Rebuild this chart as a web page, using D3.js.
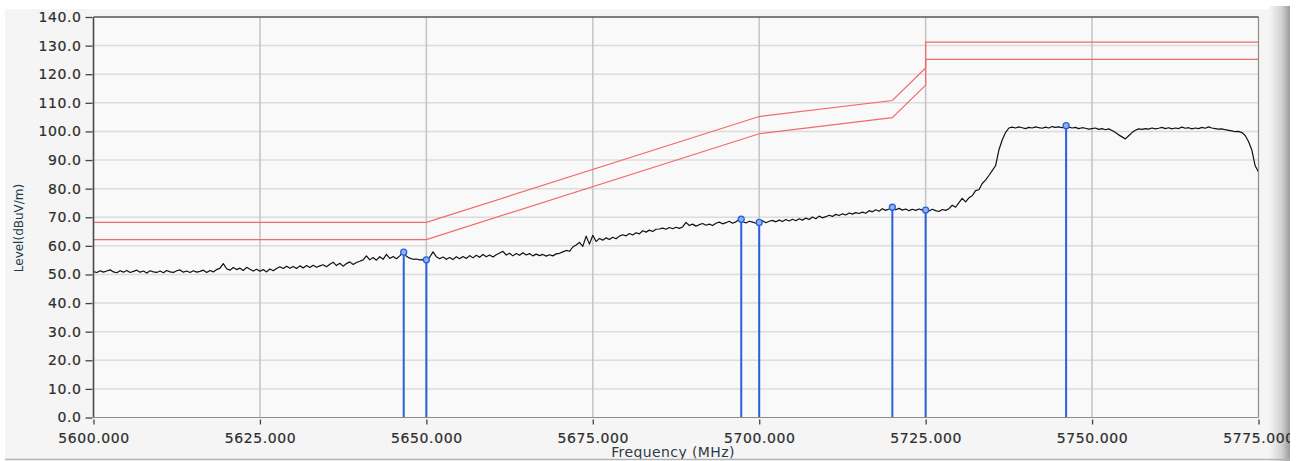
<!DOCTYPE html>
<html>
<head>
<meta charset="utf-8">
<title>Level vs frequency</title>
<script src="https://cdn.jsdelivr.net/npm/d3@7"></script>
<style>
  body { margin: 0; background: #ffffff; }
  svg { display: block; }
  .tick text { font-family: "DejaVu Sans", sans-serif; font-size: 14px; fill: #2e2e2e; stroke: #2e2e2e; stroke-width: 0.2px; letter-spacing: 0.6px; }
  .tick line { stroke: #444444; stroke-width: 1.3; }
  .axis path { display: none; }
</style>
</head>
<body>
<script>
// sweep settings of the trace (one reading every half MHz)
const freqStart = 5600;
const freqStep = 0.5;

var traceLevels = [
  51.0, 50.7, 51.3, 50.8, 51.2, 51.6, 50.9, 50.6, 51.3, 50.8,
  51.4, 50.7, 51.1, 51.5, 50.8, 51.2, 50.5, 51.3, 50.9, 50.7,
  51.2, 50.6, 51.4, 50.9, 50.7, 51.3, 51.6, 50.8, 51.2, 50.7,
  51.3, 50.8, 51.1, 51.5, 50.7, 51.4, 50.9, 51.7, 52.2, 53.8,
  52.0, 51.5, 52.4, 51.7, 52.2, 51.4, 52.5, 51.8, 51.2, 51.8,
  51.1, 51.7, 50.9, 51.9, 51.3, 52.1, 52.7, 52.1, 52.9, 52.2,
  52.8, 52.1, 53.0, 52.3, 53.1, 52.4, 53.2, 52.5, 53.0, 53.4,
  52.7, 53.6, 54.3, 53.1, 53.9, 52.9, 53.8, 54.4, 53.5, 54.2,
  54.6, 55.1, 56.5, 55.1, 55.9, 55.0, 56.2, 55.3, 57.0, 55.6,
  56.3, 55.5, 56.5, 57.8, 56.4, 55.7, 55.3, 55.4, 55.1, 55.2,
  55.1, 56.0, 57.9, 56.2, 55.5, 56.1, 55.3, 55.9, 55.2, 56.2,
  55.5, 56.3, 55.6, 56.6, 55.8, 56.7, 56.0, 57.0, 56.2, 56.8,
  56.1, 56.9, 57.5, 58.1, 56.8, 57.4, 56.5, 57.3, 56.7, 57.6,
  56.8, 57.3, 56.5, 57.1, 56.6, 57.0, 56.4, 56.9, 56.5, 57.2,
  57.4, 57.9, 58.4, 58.1, 59.6, 60.3, 61.2, 59.8, 63.4, 60.6,
  63.7, 61.5, 62.6, 62.0, 62.8, 62.2, 63.0, 62.5, 63.4, 63.9,
  63.5, 64.3, 63.8, 64.6, 64.2, 65.3, 64.8, 65.5, 65.0, 65.8,
  65.9, 66.2, 65.8, 66.4, 66.0, 66.5, 66.1, 66.6, 68.2, 67.1,
  67.6, 66.9, 67.4, 67.8, 67.2, 67.6, 67.1, 67.9, 68.3, 67.7,
  68.1, 68.6, 67.9, 68.4, 69.2, 68.5, 68.0, 68.6, 68.3, 67.9,
  68.2, 68.8, 68.1, 68.6, 68.9, 68.4, 69.0, 68.5, 69.2, 68.7,
  69.3, 68.8, 69.5, 69.0, 69.7, 69.2, 70.1, 69.5, 70.4, 69.8,
  70.2, 70.7, 70.3, 71.0, 70.6, 71.2, 70.8, 71.5, 71.1, 71.6,
  71.3, 71.8, 71.4, 72.3, 71.9, 72.6, 72.1, 73.0, 72.4, 72.9,
  73.5, 72.6, 73.1, 72.5, 72.9, 72.3, 72.8, 72.4, 72.9, 72.5,
  72.5, 72.2, 72.8, 72.3, 72.0, 72.7, 72.4, 73.0, 74.2, 73.5,
  75.1, 76.6, 75.4, 76.8, 77.5, 79.3, 79.6, 81.8, 83.0, 84.6,
  86.3, 88.0, 93.5, 97.0, 99.6, 101.2, 101.5, 101.2, 101.6, 101.3,
  101.0, 101.4, 101.2, 101.6, 101.3, 101.1, 101.5, 101.2, 101.7, 101.4,
  101.6, 101.3, 102.0, 101.5, 101.2, 101.4, 101.0, 101.3, 101.1, 100.8,
  101.0, 101.2, 100.7, 101.0, 100.6, 100.9, 100.3, 99.6, 98.8, 98.1,
  97.4, 98.5, 99.6, 100.4, 100.9, 100.7, 101.0, 100.8, 101.2, 100.9,
  101.1, 101.4, 101.0, 101.3, 100.9, 101.2, 101.0, 101.5, 101.1, 101.3,
  100.9, 101.2, 101.0, 101.4, 101.1, 101.6, 101.2, 101.0, 100.8, 100.9,
  100.6, 100.4, 100.2, 99.9, 100.0, 99.6, 98.6, 96.5, 93.5, 88.0,
  85.8
];

// limit lines (two red masks)
var limitFreqs = [5600, 5650, 5700, 5720, 5725, 5725, 5775];
var limitUpper = [68.2, 68.2, 105.2, 110.8, 122.2, 131.2, 131.2];
var limitLower = [62.2, 62.2, 99.2, 104.8, 116.2, 125.2, 125.2];

// peak markers
var markerFreqs = [5646.6, 5650.0, 5697.3, 5700.0, 5720.0, 5725.0, 5746.1];
var markerLevels = [57.8, 55.1, 69.3, 68.2, 73.5, 72.5, 102.0];

// axis ticks
var xTicks = [5600, 5625, 5650, 5675, 5700, 5725, 5750, 5775];
var yTicks = [0, 10, 20, 30, 40, 50, 60, 70, 80, 90, 100, 110, 120, 130, 140];

var w = 1300;
var h = 461;
var plotLeft = 93.5;
var plotRight = 1258.5;
var plotTop = 17;
var plotBottom = 417.5;

var svg = d3.select("body")
            .append("svg")
            .attr("width", w)
            .attr("height", h);

// gradient for the right hand shadow of the panel
var defs = svg.append("defs");
var grad = defs.append("linearGradient")
               .attr("id", "shade")
               .attr("x1", "0%").attr("x2", "100%");
grad.append("stop").attr("offset", "0%").attr("stop-color", "#f6f6f6");
grad.append("stop").attr("offset", "60%").attr("stop-color", "#d2d2d2");
grad.append("stop").attr("offset", "100%").attr("stop-color", "#9a9a9a");

// panel background
svg.append("rect")
   .attr("x", 5).attr("y", 9)
   .attr("width", 1266).attr("height", 450)
   .attr("fill", "#f5f5f5");

// right shadow of the panel (drawn under the tick labels)
svg.append("rect")
   .attr("x", 1269).attr("y", 6)
   .attr("width", 21).attr("height", 455)
   .attr("fill", "url(#shade)");

var xScale = d3.scaleLinear()
               .domain([5600, 5775])
               .range([plotLeft, plotRight]);
var yScale = d3.scaleLinear()
               .domain([0, 140])
               .range([plotBottom, plotTop]);

// plot area
svg.append("rect")
   .attr("x", plotLeft).attr("y", plotTop)
   .attr("width", plotRight - plotLeft).attr("height", plotBottom - plotTop)
   .attr("fill", "#f9f9f9");

// horizontal grid
svg.append("g")
   .selectAll("line")
   .data(yTicks.slice(1, -1))
   .enter()
   .append("line")
   .attr("x1", plotLeft).attr("x2", plotRight)
   .attr("y1", function(d) { return yScale(d); })
   .attr("y2", function(d) { return yScale(d); })
   .attr("stroke", "#dcdcdc")
   .attr("stroke-width", 1.5);

// vertical grid
svg.append("g")
   .selectAll("line")
   .data(xTicks.slice(1, -1))
   .enter()
   .append("line")
   .attr("x1", function(d) { return xScale(d); })
   .attr("x2", function(d) { return xScale(d); })
   .attr("y1", plotTop).attr("y2", plotBottom)
   .attr("stroke", "#c6c6c6")
   .attr("stroke-width", 1.6);

// limit lines
var levelLine = d3.line()
                  .x(function(d) { return xScale(d[0]); })
                  .y(function(d) { return yScale(d[1]); });

[limitUpper, limitLower].forEach(function(levels) {
  svg.append("path")
     .datum(limitFreqs.map(function(f, i) { return [f, levels[i]]; }))
     .attr("d", levelLine)
     .attr("fill", "none")
     .attr("stroke", "#f26a6a")
     .attr("stroke-width", 1.2);
});

// measured trace
var trace = traceLevels.map(function(v, i) { return [freqStart + i * freqStep, v]; });
svg.append("path")
   .datum(trace)
   .attr("d", levelLine)
   .attr("fill", "none")
   .attr("stroke", "#111111")
   .attr("stroke-width", 1.2)
   .attr("stroke-linejoin", "round");

// markers
var markers = markerFreqs.map(function(f, i) { return {f: f, v: markerLevels[i]}; });
svg.append("g")
   .selectAll("line")
   .data(markers)
   .enter()
   .append("line")
   .attr("x1", function(d) { return xScale(d.f); })
   .attr("x2", function(d) { return xScale(d.f); })
   .attr("y1", plotBottom)
   .attr("y2", function(d) { return yScale(d.v); })
   .attr("stroke", "#2a60dc")
   .attr("stroke-width", 2);

svg.append("g")
   .selectAll("circle")
   .data(markers)
   .enter()
   .append("circle")
   .attr("cx", function(d) { return xScale(d.f); })
   .attr("cy", function(d) { return yScale(d.v); })
   .attr("r", 3)
   .attr("fill", "#8fb2f2")
   .attr("stroke", "#2a60dc")
   .attr("stroke-width", 1.3);

// plot frame: dark on left and top, lighter on right and bottom
svg.append("line")
   .attr("x1", plotRight).attr("x2", plotRight).attr("y1", plotTop).attr("y2", plotBottom)
   .attr("stroke", "#8c8c8c").attr("stroke-width", 1.2);
svg.append("line")
   .attr("x1", plotLeft).attr("x2", plotRight).attr("y1", plotBottom).attr("y2", plotBottom)
   .attr("stroke", "#8c8c8c").attr("stroke-width", 1.2);
svg.append("line")
   .attr("x1", plotLeft).attr("x2", plotRight).attr("y1", plotTop).attr("y2", plotTop)
   .attr("stroke", "#555555").attr("stroke-width", 1.4);
svg.append("line")
   .attr("x1", plotLeft).attr("x2", plotLeft).attr("y1", plotTop).attr("y2", plotBottom)
   .attr("stroke", "#4a4a4a").attr("stroke-width", 1.6);

// y axis
svg.append("g")
   .attr("class", "axis")
   .attr("transform", "translate(" + (plotLeft - 1) + ",0)")
   .call(d3.axisLeft(yScale)
           .tickValues(yTicks)
           .tickFormat(d3.format(".1f"))
           .tickSize(7)
           .tickPadding(4));

// x axis
svg.append("g")
   .attr("class", "axis")
   .attr("transform", "translate(0," + (plotBottom + 2) + ")")
   .call(d3.axisBottom(xScale)
           .tickValues(xTicks)
           .tickFormat(d3.format(".3f"))
           .tickSize(5)
           .tickPadding(9));

// axis titles
svg.append("text")
   .attr("x", (plotLeft + plotRight) / 2 - 3)
   .attr("y", 457)
   .style("text-anchor", "middle")
   .style("font-family", "DejaVu Sans, sans-serif")
   .style("font-size", "14px")
   .style("letter-spacing", "0.4px")
   .attr("fill", "#2e3a46")
   .text("Frequency (MHz)");

svg.append("text")
   .attr("transform", "translate(23,228) rotate(-90)")
   .style("text-anchor", "middle")
   .style("font-family", "DejaVu Sans, sans-serif")
   .style("font-size", "12px")
   .attr("fill", "#1d3a48")
   .text("Level(dBuV/m)");

// bottom edge of the panel and the white margin that cuts the last label
svg.append("line")
   .attr("x1", 5).attr("x2", 1290).attr("y1", 459.5).attr("y2", 459.5)
   .attr("stroke", "#b4b4b4").attr("stroke-width", 1.5);
svg.append("rect")
   .attr("x", 1290).attr("y", 0)
   .attr("width", 10).attr("height", h)
   .attr("fill", "#ffffff");
</script>
</body>
</html>
